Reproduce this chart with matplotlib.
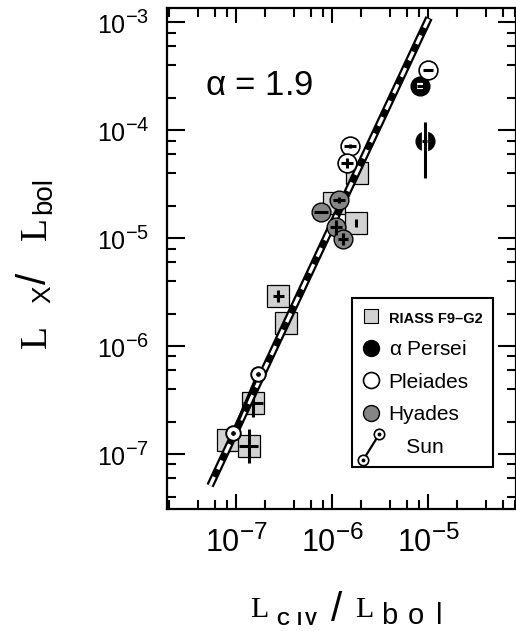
import numpy as np
import matplotlib
matplotlib.use("Agg")
import matplotlib.pyplot as plt
import matplotlib._mathtext as _mt
from matplotlib.ticker import LogLocator, NullFormatter
from matplotlib.lines import Line2D
from matplotlib.legend_handler import HandlerBase

plt.rcParams['font.family'] = ['Liberation Sans', 'DejaVu Sans']
plt.rcParams['mathtext.fontset'] = 'custom'
plt.rcParams['mathtext.rm'] = 'Liberation Sans'
plt.rcParams['mathtext.it'] = 'Liberation Sans:italic'
plt.rcParams['mathtext.default'] = 'regular'
plt.rcParams['lines.scale_dashes'] = False
# larger exponents in the decade labels
_mt.SHRINK_FACTOR = 0.8

# ---- data: L_CIV/L_bol (x) and L_X/L_bol (y); error half-widths in dex ----
riass_x = [2.74e-7, 3.32e-7, 1.50e-7, 8.3e-8, 1.36e-7, 1.82e-6, 1.78e-6, 1.05e-6]
riass_y = [2.90e-6, 1.63e-6, 3.0e-7, 1.35e-7, 1.19e-7, 4.0e-5, 1.38e-5, 2.11e-5]
riass_xerr = [0.057, 0.03, 0.10, 0.0, 0.10, 0.0, 0.0, 0.0]
riass_yerr = [0.054, 0.046, 0.13, 0.0, 0.16, 0.03, 0.037, 0.0]

persei_x = [8.26e-6, 9.2e-6]
persei_y = [2.55e-4, 7.84e-5]
persei_xerr = [0.03, 0.025]
persei_yerr_lo = [0.0, 0.34]
persei_yerr_hi = [0.0, 0.18]

pleiades_x = [1.54e-6, 1.43e-6, 1.0e-5]
pleiades_y = [7.1e-5, 4.95e-5, 3.6e-4]
pleiades_xerr = [0.06, 0.06, 0.05]
pleiades_yerr = [0.02, 0.045, 0.0]

hyades_x = [1.18e-6, 7.7e-7, 1.10e-6, 1.30e-6]
hyades_y = [2.25e-5, 1.74e-5, 1.26e-5, 9.8e-6]
hyades_xerr = [0.06, 0.07, 0.06, 0.05]
hyades_yerr = [0.03, 0.0, 0.07, 0.06]

sun_x = [1.69e-7, 9.3e-8]
sun_y = [5.5e-7, 1.56e-7]

alpha = 1.9
fit_logc = 6.52
fit_xrange = [10**-7.27, 10**-4.99]


def dex_err(v, lo, hi):
    v = np.asarray(v, float)
    lo = np.asarray(lo, float)
    hi = np.asarray(hi, float)
    return [v * (1 - 10**(-lo)), v * (10**hi - 1)]


W, H = 516, 631
fig = plt.figure(figsize=(W / 100, H / 100), dpi=100)
ax = fig.add_axes([167 / W, (H - 509) / H, 348.5 / W, 501 / H])
ax.set_xscale('log')
ax.set_yscale('log')
ax.set_xlim(10**-7.719, 10**-4.089)
ax.set_ylim(10**-7.509, 10**-2.870)

# fit line: thick black band with white dashes
fx = np.logspace(np.log10(fit_xrange[0]), np.log10(fit_xrange[1]), 50)
fy = 10**fit_logc * fx**alpha
ax.plot(fx, fy, color='k', lw=5.6, solid_capstyle='butt', zorder=3)
ax.plot(fx, fy, color='white', lw=2.4, dashes=(7, 6), dash_capstyle='butt', zorder=3.1)

# RIASS F9-G2 squares
ax.plot(riass_x, riass_y, 's', ms=16.5, mfc='#d2d2d2', mec='k', mew=0.9, ls='none', zorder=2)
ax.errorbar(riass_x, riass_y,
            xerr=dex_err(riass_x, riass_xerr, riass_xerr),
            yerr=dex_err(riass_y, riass_yerr, riass_yerr),
            fmt='none', ecolor='k', elinewidth=2.2, capsize=0, zorder=2.5)

# Hyades
ax.plot(hyades_x, hyades_y, 'o', ms=13.5, mfc='#858585', mec='k', mew=1.0, ls='none', zorder=4)
ax.errorbar(hyades_x, hyades_y,
            xerr=dex_err(hyades_x, hyades_xerr, hyades_xerr),
            yerr=dex_err(hyades_y, hyades_yerr, hyades_yerr),
            fmt='none', ecolor='k', elinewidth=2.2, capsize=0, zorder=4.5)

# Pleiades
ax.plot(pleiades_x, pleiades_y, 'o', ms=13.5, mfc='white', mec='k', mew=1.2, ls='none', zorder=4)
ax.errorbar(pleiades_x, pleiades_y,
            xerr=dex_err(pleiades_x, pleiades_xerr, pleiades_xerr),
            yerr=dex_err(pleiades_y, pleiades_yerr, pleiades_yerr),
            fmt='none', ecolor='k', elinewidth=2.2, capsize=0, zorder=4.5)

# alpha Persei
ax.plot(persei_x, persei_y, 'o', ms=13.5, mfc='k', mec='k', ls='none', zorder=3.8)
pe_xe = dex_err(persei_x, persei_xerr, persei_xerr)
pe_ye = dex_err(persei_y, persei_yerr_lo, persei_yerr_hi)
ax.errorbar(persei_x, persei_y, xerr=pe_xe, yerr=pe_ye,
            fmt='none', ecolor='white', elinewidth=4.5, capsize=0, zorder=3.85)
ax.errorbar(persei_x, persei_y, xerr=pe_xe, yerr=pe_ye,
            fmt='none', ecolor='k', elinewidth=2.2, capsize=0, zorder=3.9)

# Sun: two positions joined by a line
ax.plot(sun_x, sun_y, '-', color='k', lw=2.4, zorder=4.8)
ax.plot(sun_x, sun_y, 'o', ms=10.5, mfc='white', mec='k', mew=1.4, ls='none', zorder=5)
ax.plot(sun_x, sun_y, 'o', ms=2.4, mfc='k', mec='k', ls='none', zorder=5.1)

ax.text(0.109, 0.826, r'$\alpha$ = 1.9', transform=ax.transAxes, fontsize=25,
        ha='left', va='baseline')

# axes styling
for s in ax.spines.values():
    s.set_linewidth(1.6)
ax.xaxis.set_major_locator(LogLocator(base=10, numticks=20))
ax.yaxis.set_major_locator(LogLocator(base=10, numticks=20))
ax.xaxis.set_minor_locator(LogLocator(base=10, subs=(2, 4, 6, 8), numticks=20))
ax.yaxis.set_minor_locator(LogLocator(base=10, subs=(2, 4, 6, 8), numticks=20))
ax.xaxis.set_minor_formatter(NullFormatter())
ax.yaxis.set_minor_formatter(NullFormatter())
ax.tick_params(which='both', direction='in', top=True, right=True, width=1.5)
ax.tick_params(axis='x', which='major', length=11, labelsize=22, pad=12)
ax.tick_params(axis='y', which='major', length=13, labelsize=18, pad=13)
ax.tick_params(which='minor', length=6.5)


# legend
class SunHandler(HandlerBase):
    def create_artists(self, legend, orig_handle, xdescent, ydescent,
                       width, height, fontsize, trans):
        x0, y0 = -xdescent + 0.05 * width, -ydescent - 0.45 * height
        x1, y1 = -xdescent + 0.95 * width, -ydescent + 1.3 * height
        ln = Line2D([x0, x1], [y0, y1], color='k', lw=1.6, transform=trans)
        c = Line2D([x0, x1], [y0, y1], ls='none', marker='o', ms=7.5, mfc='white',
                   mec='k', mew=1.2, transform=trans)
        d = Line2D([x0, x1], [y0, y1], ls='none', marker='o', ms=1.8, mfc='k',
                   mec='k', transform=trans)
        return [ln, c, d]


h_riass = Line2D([], [], ls='none', marker='s', ms=10, mfc='#d2d2d2', mec='k', mew=0.8)
h_persei = Line2D([], [], ls='none', marker='o', ms=11.5, mfc='k', mec='k')
h_pleiades = Line2D([], [], ls='none', marker='o', ms=11.5, mfc='white', mec='k', mew=1.2)
h_hyades = Line2D([], [], ls='none', marker='o', ms=11.5, mfc='#858585', mec='k', mew=1.0)
h_sun = object()
leg = ax.legend([h_riass, h_persei, h_pleiades, h_hyades, h_sun],
                ['RIASS F9\u2013G2', r'$\alpha$ Persei', 'Pleiades', 'Hyades', '   Sun'],
                handler_map={h_sun: SunHandler()},
                loc='upper left', bbox_to_anchor=(0.531, 0.421), borderaxespad=0,
                fontsize=15, frameon=True, fancybox=False, framealpha=1,
                edgecolor='k', handlelength=0.85, handletextpad=0.4,
                labelspacing=0.66, borderpad=0.5)
leg.get_frame().set_linewidth(1.5)
leg.set_zorder(10)
leg.get_texts()[0].set_fontsize(10.5)
leg.get_texts()[0].set_fontweight('bold')


# axis titles assembled from text pieces placed in pixel coords (y down)
def put(s, x, baseline, size, family='Liberation Sans', weight='normal', rotate=False):
    fig.text(x / W, 1 - baseline / H, s, fontsize=size, family=family, weight=weight,
             ha='left', va='baseline', rotation=90 if rotate else 0,
             rotation_mode='anchor')


# x title: L_CIV / L_bol
put('L', 250, 617, 21.5, 'Liberation Serif')
for ch, xp in zip('CIV', (276, 297, 305)):
    put(ch, xp, 625, 13, weight='bold')
put('/', 331, 621, 29)
put('L', 355, 617, 21.5, 'Liberation Serif')
for ch, xp in zip('bol', (381, 408, 436)):
    put(ch, xp, 624, 21)

# y title: L_X / L_bol (reading upward; x is the baseline position)
put('L', 46, 348, 27, 'Liberation Serif', rotate=True)
put('X', 50, 303, 19, rotate=True)
put('/', 46, 284, 29, rotate=True)
put('L', 46, 240, 27, 'Liberation Serif', rotate=True)
put('bol', 51, 214, 20, rotate=True)

fig.savefig('out.png', dpi=100)
